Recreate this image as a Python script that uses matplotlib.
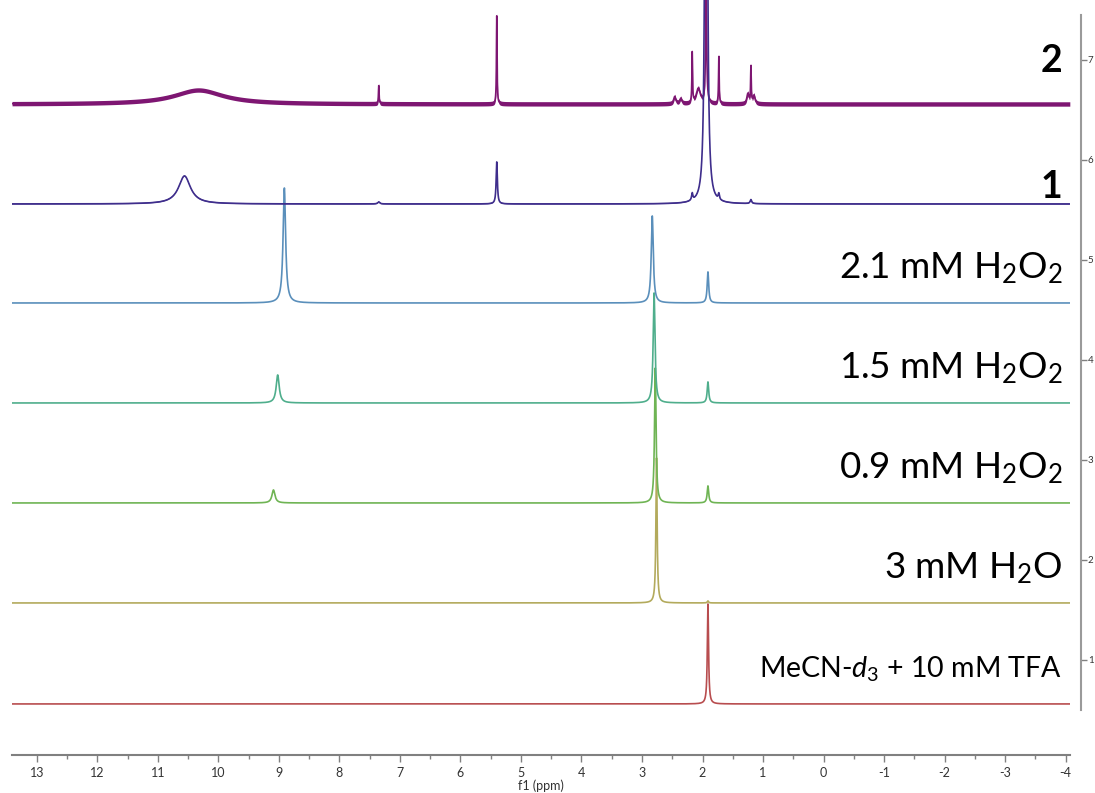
import numpy as np
import matplotlib
matplotlib.use("Agg")
import matplotlib.pyplot as plt
from matplotlib.ticker import MultipleLocator

plt.rcParams['font.family'] = ['Lato', 'DejaVu Sans']
plt.rcParams['mathtext.fontset'] = 'custom'
plt.rcParams['mathtext.rm'] = 'Lato'
plt.rcParams['mathtext.it'] = 'Lato:italic'

# ---- data: peak lists (ppm position, height above baseline, half width) ----
# bottom to top
labels = ["MeCN-$d_3$ + 10 mM TFA", "3 mM H$_2$O", "0.9 mM H$_2$O$_2$",
          "1.5 mM H$_2$O$_2$", "2.1 mM H$_2$O$_2$", "1", "2"]
baselines = [0.56, 1.57, 2.57, 3.57, 4.57, 5.56, 6.56]
colors = ["#b84d4f", "#b3aa5c", "#6fb454", "#4fae8c", "#5a8fbb", "#3f2e8c", "#7e1672"]
noise_band = [0, 0, 0, 0, 0, 0.006, 0.022]   # visual thickness of noisy baselines
layer = [2, 2, 2, 2, 2, 4, 3]

mecn_pos = [1.91]
mecn_h = [1.00]
mecn_w = [0.012]

h2o_pos = [2.76, 1.91]
h2o_h = [1.45, 0.02]
h2o_w = [0.012, 0.012]

p09_pos = [9.09, 2.78, 1.91]
p09_h = [0.13, 1.35, 0.17]
p09_w = [0.03, 0.015, 0.015]

p15_pos = [9.02, 2.80, 1.91]
p15_h = [0.28, 1.10, 0.21]
p15_w = [0.03, 0.018, 0.015]

p21_pos = [8.91, 2.83, 1.91]
p21_h = [1.15, 0.87, 0.31]
p21_w = [0.025, 0.02, 0.015]

c1_pos = [10.56, 5.40, 2.17, 1.94, 1.73, 1.20, 7.35]
c1_h = [0.28, 0.42, 0.07, 12.0, 0.06, 0.04, 0.02]
c1_w = [0.12, 0.012, 0.012, 0.014, 0.012, 0.015, 0.02]

c2_pos = [10.33, 7.35, 5.40, 2.46, 2.36, 2.17, 2.07, 1.94, 1.73, 1.25, 1.20, 1.15]
c2_h = [0.14, 0.18, 0.88, 0.07, 0.05, 0.50, 0.15, 1.2, 0.47, 0.10, 0.36, 0.08]
c2_w = [0.5, 0.006, 0.006, 0.02, 0.02, 0.006, 0.04, 0.01, 0.006, 0.02, 0.006, 0.02]

peaks = [
    (mecn_pos, mecn_h, mecn_w),
    (h2o_pos, h2o_h, h2o_w),
    (p09_pos, p09_h, p09_w),
    (p15_pos, p15_h, p15_w),
    (p21_pos, p21_h, p21_w),
    (c1_pos, c1_h, c1_w),
    (c2_pos, c2_h, c2_w),
]

ppm = np.linspace(13.41, -4.07, 40000)


def spectrum(pos, h, w):
    y = np.zeros_like(ppm)
    for p, a, g in zip(pos, h, w):
        y += a / (1 + ((ppm - p) / g) ** 2)
    return y


fig = plt.figure(figsize=(10.95, 7.93), dpi=100)
ax = fig.add_axes([0.011, 0.048, 0.966, 0.952])

for (pos, h, w), base, col, band, z in zip(peaks, baselines, colors, noise_band, layer):
    y = base + spectrum(pos, h, w)
    ax.plot(ppm, y, color=col, lw=1.2, zorder=z)
    if band > 0:
        ax.fill_between(ppm, y - band, y + band, color=col, lw=0, zorder=z)

# labels on the right
for lab, base in zip(labels[:5], baselines[:5]):
    fs = 20.5 if lab.startswith("MeCN") else 26.5
    ax.text(-3.95, base + 0.35, lab, ha="right", va="center", fontsize=fs, color="black")
ax.text(-3.95, 5.56 + 0.17, "1", ha="right", va="center", fontsize=27, fontweight="bold")
ax.text(-3.95, 6.56 + 0.43, "2", ha="right", va="center", fontsize=27, fontweight="bold")

ax.set_xlim(13.41, -4.07)
ax.set_ylim(0.05, 7.6)

for s in ["top", "left"]:
    ax.spines[s].set_visible(False)
ax.spines["bottom"].set_color("#808080")
ax.spines["bottom"].set_linewidth(1.5)
ax.spines["right"].set_color("#9a9a9a")
ax.spines["right"].set_linewidth(1.5)
ax.spines["right"].set_bounds(0.5, 7.45)
ax.spines["right"].set_position(("outward", 8))

ax.xaxis.set_minor_locator(MultipleLocator(0.5))
ax.set_xticks(np.arange(-4, 14, 1))
ax.set_xticklabels([str(v) for v in range(-4, 14)])
ax.tick_params(axis="x", which="major", direction="out", length=5, width=1, color="#808080",
               labelsize=9, labelcolor="#333333", pad=4)
ax.tick_params(axis="x", which="minor", direction="out", length=3, width=1, color="#808080")
ax.set_xlabel("f1 (ppm)", fontsize=9, color="#333333", labelpad=0)

ax.yaxis.tick_right()
ax.set_yticks([1, 2, 3, 4, 5, 6, 7])
ax.tick_params(axis="y", which="major", direction="out", length=4, width=1, color="#808080",
               labelsize=7, labelcolor="#333333", pad=1)
ax.set_facecolor("none")

fig.savefig("out.png", dpi=100)
